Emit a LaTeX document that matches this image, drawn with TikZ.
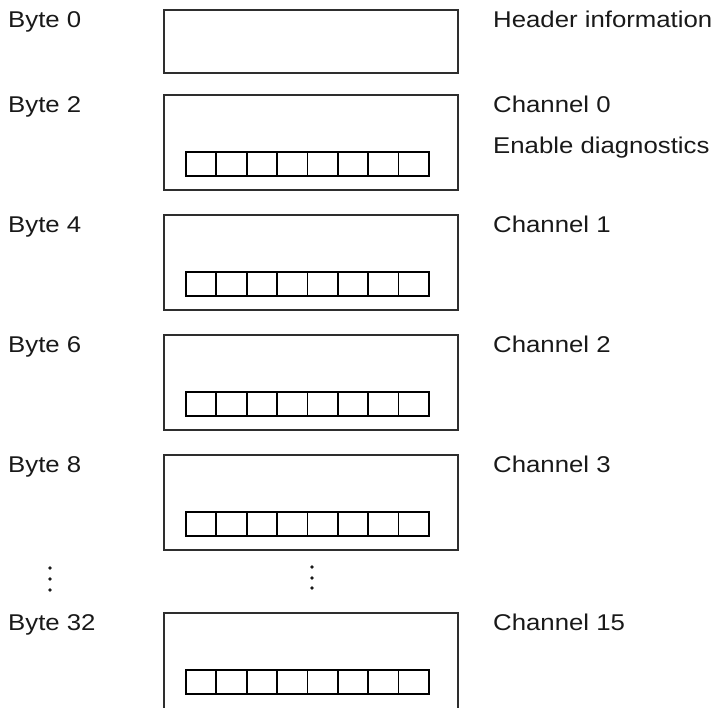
\documentclass[tikz,border=0pt]{standalone}
\usepackage{fontspec}
\newfontfamily\labfont[FakeStretch=1.13]{Liberation Sans}
\begin{document}
\begin{tikzpicture}[x=1pt,y=1pt,
  regbox/.style={draw=black!82, line width=1.9pt, minimum width=294pt, inner sep=0pt, anchor=north west},
  cell/.style={draw=black, line width=1.8pt, minimum width=30.375pt, minimum height=24pt, inner sep=0pt, anchor=north west},
  lab/.style={anchor=base west, inner sep=0pt, text=black!90, font=\labfont\fontsize{22.8}{27}\selectfont},
  dotmark/.style={fill=black!90, circle, inner sep=0pt, minimum size=3.8pt}]
\clip (0,0) rectangle (720,-707);
% header box
\node[regbox, minimum height=63pt] (b0) at (163,-9) {};
\node[lab] (l0) at (8,-27.3) {Byte 0};
\node[lab] (r0) at (493,-27.3) {Header information};
% channel boxes
\foreach \i/\top/\bl/\ch in {1/94/Byte 2/Channel 0, 2/214/Byte 4/Channel 1, 3/334/Byte 6/Channel 2, 4/454/Byte 8/Channel 3, 5/612/Byte 32/Channel 15}{
  \node[regbox, minimum height={\i==5 ? 110pt : 95pt}] (b\i) at (163,-\top) {};
  \node[lab] (l\i) at (8,-\top-18.7) {\bl};
  \node[lab] (r\i) at (493,-\top-18.7) {\ch};
  \foreach \k in {0,...,7}{
    \node[cell] (c\i-\k) at ({185+30.375*\k},-\top-57) {};
  }
}
\node[lab] (en) at (493,-153) {Enable diagnostics};
% continuation dots
\foreach \j/\yy in {1/568,2/579,3/590}{
  \node[dotmark] (dl\j) at (50,-\yy) {};
}
\foreach \j/\yy in {1/567,2/578,3/588}{
  \node[dotmark] (dr\j) at (312,-\yy) {};
}
\end{tikzpicture}
\end{document}
